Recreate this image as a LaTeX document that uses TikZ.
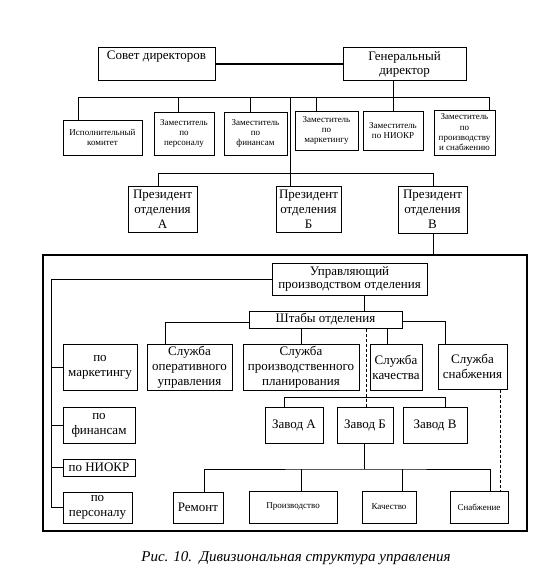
\documentclass[tikz,border=0pt]{standalone}
\usepackage{fontspec}
\setmainfont{Liberation Serif}
\begin{document}
\begin{tikzpicture}[x=1pt,y=-1pt,
  box/.style={draw, line width=1pt, inner sep=0pt, align=center, font=\fontsize{13}{15}\selectfont},
  sm/.style={box, font=\fontsize{9}{10.3}\selectfont},
  ln/.style={line width=1pt},
  dsh/.style={line width=1pt, dash pattern=on 3pt off 2pt}]
\useasboundingbox[fill=white] (0,0) rectangle (558,578);

% top level
\node[box, minimum width=117pt, minimum height=32pt] (sovet) at (156.5,64) {};
\node[font=\fontsize{13}{15}\selectfont, inner sep=0pt] (sovett) at (156.5,57) {Совет директоров};
\node[box, minimum width=123pt, minimum height=32pt, font=\fontsize{13}{14}\selectfont] (gen) at (404.5,64) {Генеральный\\директор};
\draw[line width=1.5pt] (sovet) -- (gen);

% deputies
\node[sm, minimum width=79pt, minimum height=35pt] (isp) at (102.5,137.5) {Исполнительный\\комитет};
\node[sm, minimum width=60pt, minimum height=43pt] (zper) at (184,133.5) {Заместитель\\по\\персоналу};
\node[sm, minimum width=63pt, minimum height=43pt] (zfin) at (255.5,133.5) {Заместитель\\по\\финансам};
\node[sm, minimum width=63pt, minimum height=39pt] (zmark) at (326.5,130.5) {Заместитель\\по\\маркетингу};
\node[sm, minimum width=60pt, minimum height=39pt] (zniokr) at (393,130.5) {Заместитель\\по НИОКР};
\node[sm, minimum width=61pt, minimum height=45pt] (zproizv) at (464.5,132.5) {Заместитель\\по\\производству\\и снабжению};

\coordinate (bL) at (78,97);
\coordinate (b2) at (178,97);
\coordinate (b3) at (250,97);
\coordinate (c1) at (290,97);
\coordinate (b4) at (316,97);
\coordinate (bR) at (489,97);
\draw[ln] (gen.south -| zniokr.north) -- (zniokr.north);
\draw[ln] (bL |- isp.north) -- (bL) -- (bR) -- (bR |- zproizv.north);
\draw[ln] (b2) -- (b2 |- zper.north);
\draw[ln] (b3) -- (b3 |- zfin.north);
\draw[ln] (b4) -- (b4 |- zmark.north);

% presidents
\node[box, minimum width=69pt, minimum height=46pt] (prA) at (162.5,209) {Президент\\отделения\\А};
\node[box, minimum width=65pt, minimum height=46pt] (prB) at (308.5,209) {Президент\\отделения\\Б};
\node[box, minimum width=69pt, minimum height=47pt] (prV) at (432.5,209.5) {Президент\\отделения\\В};
\coordinate (pL) at (158,173);
\coordinate (pR) at (433,173);
\draw[ln] (c1) -- (c1 |- prB.north);
\draw[ln] (pL |- prA.north) -- (pL) -- (pR) -- (pR |- prV.north);

% division frame
\node[draw, line width=1.5pt, minimum width=484pt, minimum height=276pt, inner sep=0pt] (frame) at (285,393) {};
\draw[ln] (pR |- prV.south) -- (pR |- frame.north);

\node[box, minimum width=155pt, minimum height=32pt, font=\fontsize{13}{13.5}\selectfont] (upr) at (349.5,279) {Управляющий\\производством отделения};
\node[box, minimum width=153pt, minimum height=17pt] (shtab) at (325.5,319.5) {Штабы отделения};

\node[box, minimum width=74pt, minimum height=46pt] (mark) at (100,367) {по\\маркетингу};
\node[box, minimum width=85pt, minimum height=46pt] (oper) at (189.5,367) {Служба\\оперативного\\управления};
\node[box, minimum width=116pt, minimum height=46pt] (plan) at (301,367) {Служба\\производственного\\планирования};
\node[box, minimum width=52pt, minimum height=46pt] (kach) at (396,367) {Служба\\качества};
\node[box, minimum width=69pt, minimum height=45pt] (snab) at (472.5,366.5) {Служба\\снабжения};

\node[box, minimum width=72pt, minimum height=36pt] (fin) at (99,425) {по\\финансам};
\node[box, minimum width=72pt, minimum height=17pt] (niokr) at (99,467.5) {по НИОКР};
\node[box, minimum width=69pt, minimum height=31pt] (pers) at (97.5,507.5) {по\\персоналу};

\node[box, minimum width=58pt, minimum height=36pt] (zA) at (294,425) {Завод А};
\node[box, minimum width=56pt, minimum height=36pt] (zB) at (365,425) {Завод Б};
\node[box, minimum width=64pt, minimum height=36pt] (zV) at (435,425) {Завод В};

\node[box, minimum width=50pt, minimum height=31pt] (rem) at (198,507.5) {Ремонт};
\node[sm, minimum width=88pt, minimum height=32pt] (proizv) at (293,507) {Производство};
\node[sm, minimum width=54pt, minimum height=32pt] (kach2) at (389,507) {Качество};
\node[sm, minimum width=58pt, minimum height=32pt] (snab2) at (479,507) {Снабжение};

% left staff line
\coordinate (lb) at (51,279);
\draw[ln] (upr.west) -- (lb) -- (lb |- pers.west) -- (pers.west);
\draw[ln] (lb |- mark.west) -- (mark.west);
\draw[ln] (lb |- fin.west) -- (fin.west);
\draw[ln] (lb |- niokr.west) -- (niokr.west);

% headquarters
\draw[ln] ([xshift=14.5pt]upr.south) -- ([xshift=14.5pt]upr.south |- shtab.north);
\draw[ln] ([yshift=-3pt]shtab.west) -| ([xshift=-24.5pt]oper.north);
\draw[ln] ([yshift=-1.5pt]shtab.east) -| ([xshift=-27.5pt]snab.north);
\draw[ln] (plan.north |- shtab.south) -- (plan.north);
\draw[ln] ([xshift=-9pt]kach.north |- shtab.south) -- ([xshift=-9pt]kach.north);
\draw[dsh] ([xshift=1.5pt]zB.north |- shtab.south) -- ([xshift=1.5pt]zB.north);
\draw[dsh] ([xshift=27.5pt]snab.south) -- ([xshift=27.5pt]snab.south |- snab2.north);

% plants
\draw[ln] ([xshift=-10pt]zA.north) -- ++(0,-9) -| ([xshift=10pt]zV.north);
\coordinate (lbus) at (364,469);
\draw[ln] ([xshift=-1pt]zB.south) -- (lbus);
\draw[ln] ([xshift=6pt]rem.north) |- (lbus) -| ([xshift=11pt]snab2.north);
\draw[ln] ([xshift=8pt]proizv.north) -- ([xshift=8pt]proizv.north |- lbus);
\draw[ln] ([xshift=13pt]kach2.north) -- ([xshift=13pt]kach2.north |- lbus);

% caption
\node[font=\fontsize{15}{17}\itshape] (cap) at (296,558) {Рис. 10.\ \ Дивизиональная структура управления};
\end{tikzpicture}
\end{document}
